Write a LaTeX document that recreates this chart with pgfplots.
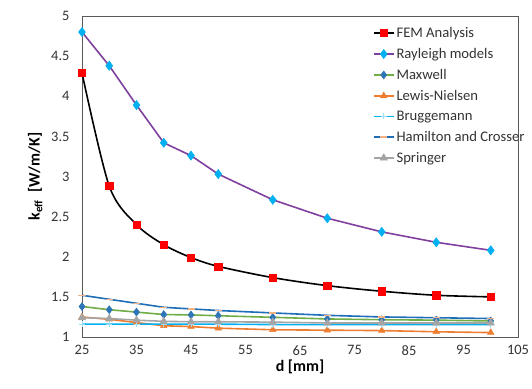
\documentclass[border=0pt]{standalone}
\usepackage{pgfplots}
\pgfplotsset{compat=1.18}
\usepackage{fontspec}
\setmainfont{Carlito}
\definecolor{femred}{HTML}{FF0000}
\definecolor{raypurple}{HTML}{8040A0}
\definecolor{raycyan}{HTML}{00B0F0}
\definecolor{maxgreen}{HTML}{70AD47}
\definecolor{maxblue}{HTML}{2E75B6}
\definecolor{lnorange}{HTML}{ED7D31}
\definecolor{brcyan}{HTML}{00B0F0}
\definecolor{hcblue}{HTML}{1F6FB8}
\definecolor{hcpeach}{HTML}{F4B183}
\definecolor{spgray}{HTML}{A5A5A5}
\pgfplotstableread{
d fem ray max ln br hc sp
25 4.29 4.80 1.38 1.25 1.16 1.52 1.24
30 2.88 4.38 1.34 1.22 1.16 1.47 1.23
35 2.40 3.89 1.31 1.18 1.16 1.42 1.21
40 2.15 3.42 1.28 1.14 1.16 1.37 1.195
45 1.99 3.26 1.275 1.13 1.16 1.35 1.19
50 1.88 3.03 1.265 1.11 1.16 1.33 1.19
60 1.74 2.71 1.245 1.09 1.155 1.30 1.185
70 1.64 2.48 1.225 1.085 1.155 1.27 1.175
80 1.57 2.31 1.215 1.08 1.155 1.25 1.175
90 1.52 2.18 1.21 1.065 1.155 1.24 1.175
100 1.50 2.08 1.20 1.055 1.155 1.23 1.175
}\datatable
\begin{document}
\begin{tikzpicture}
\path[use as bounding box] (-82bp,-52bp) rectangle (450bp,337bp);
\begin{axis}[
  scale only axis, width=436bp, height=321bp,
  at={(0,0)}, anchor=south west,
  xmin=25, xmax=105, ymin=1, ymax=5,
  xtick={25,35,45,55,65,75,85,95,105},
  ytick={1,1.5,2,2.5,3,3.5,4,4.5,5},
  major tick length=0pt,
  axis line style={black!65, line width=0.8bp},
  /pgf/number format/assume math mode=true,
  tick label style={font=\fontsize{14.5}{16}\selectfont, text=black!80},
  yticklabel style={xshift=-9bp},
  xticklabel style={yshift=-5bp},
  xlabel={\textbf{d [mm]}},
  ylabel={\textbf{k\textsubscript{eff}\ \ [W/m/K]}},
  label style={font=\fontsize{16}{18}\selectfont},
  xlabel style={yshift=2bp},
  ylabel style={yshift=2bp},
  legend cell align=left,
  legend style={at={(0.66,0.978)}, anchor=north west, draw=none, fill=none,
    font=\fontsize{14.7}{17}\selectfont, text=black!80, row sep=5.3bp},
  legend image code/.code={\draw[mark repeat=2,mark phase=2] plot coordinates {(0bp,0bp)(10bp,0bp)(20bp,0bp)};},
]
\addplot[black, line width=1.6bp, smooth, tension=0.5, mark=square*, mark size=3.6bp, mark options={draw=femred, fill=femred, line width=0.5bp}] table[x=d, y=fem] {\datatable};
\addlegendentry{FEM Analysis}
\addplot[raypurple, line width=1.6bp, mark=diamond*, mark size=4.6bp, mark options={draw=raycyan, fill=raycyan, line width=0.5bp}] table[x=d, y=ray] {\datatable};
\addlegendentry{Rayleigh models}
\addplot[maxgreen, line width=1.6bp, mark=diamond*, mark size=4bp, mark options={draw=maxblue, fill=maxblue, line width=0.5bp}] table[x=d, y=max] {\datatable};
\addlegendentry{Maxwell}
\addplot[lnorange, line width=1.6bp, mark=triangle*, mark size=3.8bp, mark options={draw=lnorange, fill=lnorange, line width=0.5bp}] table[x=d, y=ln] {\datatable};
\addlegendentry{Lewis-Nielsen}
\addplot[brcyan, line width=1.6bp, mark=+, mark size=3bp, mark options={draw=brcyan!40, line width=0.6bp}] table[x=d, y=br] {\datatable};
\addlegendentry{Bruggemann}
\addplot[hcblue, line width=1.6bp, mark=-, mark size=3.5bp, mark options={draw=hcpeach, line width=1.4bp}] table[x=d, y=hc] {\datatable};
\addlegendentry{Hamilton and Crosser}
\addplot[spgray, line width=1.6bp, mark=triangle*, mark size=4.2bp, mark options={draw=spgray, fill=spgray, line width=0.5bp}] table[x=d, y=sp] {\datatable};
\addlegendentry{Springer}
\end{axis}
\end{tikzpicture}
\end{document}
